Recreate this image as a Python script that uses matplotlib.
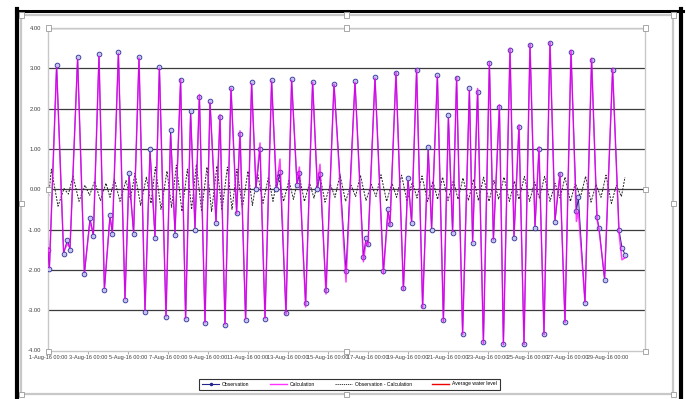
import matplotlib
matplotlib.use("Agg")
import matplotlib.pyplot as plt
from matplotlib.lines import Line2D
from matplotlib.patches import Rectangle

plt.rcParams['font.family'] = ['Liberation Sans', 'DejaVu Sans']
plt.rcParams['axes.unicode_minus'] = False

# turning points of the observed water level (days since 1-Aug-16 00:00, m)
obs_days = [0.00, 0.07, 0.43, 0.78, 0.97, 1.10, 1.48, 1.82, 2.10, 2.27,
            2.55, 2.82, 3.10, 3.22, 3.52, 3.85, 4.05, 4.28, 4.55, 4.85,
            5.10, 5.35, 5.57, 5.90, 6.13, 6.35, 6.63, 6.88, 7.13, 7.35,
            7.57, 7.85, 8.10, 8.40, 8.60, 8.85, 9.15, 9.43, 9.60, 9.88,
            10.18, 10.40, 10.60, 10.85, 11.18, 11.42, 11.60, 11.90, 12.18, 12.45,
            12.57, 12.88, 13.23, 13.47, 13.60, 13.90, 14.30, 14.90, 15.35, 15.77,
            15.90, 16.00, 16.35, 16.77, 17.00, 17.10, 17.40, 17.77, 18.00, 18.18,
            18.43, 18.73, 19.01, 19.18, 19.47, 19.77, 20.02, 20.23, 20.43, 20.73,
            21.07, 21.23, 21.48, 21.77, 22.07, 22.27, 22.57, 22.77, 23.10, 23.30,
            23.55, 23.80, 24.10, 24.35, 24.55, 24.80, 25.10, 25.35, 25.60, 25.85,
            26.15, 26.42, 26.52, 26.85, 27.18, 27.45, 27.55, 27.83, 28.23, 28.55,
            28.70, 28.85]
obs_vals = [-1.50, -1.98, 3.08, -1.60, -1.25, -1.50, 3.27, -2.11, -0.71, -1.17,
            3.35, -2.50, -0.63, -1.12, 3.40, -2.75, 0.40, -1.10, 3.27, -3.04,
            1.00, -1.20, 3.04, -3.17, 1.46, -1.13, 2.70, -3.21, 1.94, -1.00,
            2.29, -3.33, 2.20, -0.83, 1.79, -3.36, 2.52, -0.58, 1.38, -3.25,
            2.65, 0.00, 1.00, -3.21, 2.70, 0.00, 0.42, -3.08, 2.73, 0.10,
            0.40, -2.83, 2.67, 0.00, 0.37, -2.50, 2.62, -2.04, 2.68, -1.67,
            -1.20, -1.35, 2.79, -2.04, -0.50, -0.85, 2.89, -2.46, 0.29, -0.83,
            2.96, -2.90, 1.04, -1.00, 2.83, -3.25, 1.83, -1.08, 2.75, -3.58,
            2.50, -1.33, 2.42, -3.79, 3.12, -1.25, 2.04, -3.83, 3.46, -1.20,
            1.54, -3.83, 3.58, -0.95, 1.00, -3.58, 3.62, -0.80, 0.37, -3.29,
            3.41, -0.55, -0.20, -2.83, 3.20, -0.70, -0.95, -2.25, 2.96, -1.00,
            -1.45, -1.62]
calc_vals = [-1.45, -1.95, 3.02, -1.55, -1.35, -1.45, 3.22, -2.05, -0.80, -1.10,
             3.30, -2.45, -0.70, -1.05, 3.36, -2.72, 0.30, -1.05, 3.25, -3.00,
             0.90, -1.15, 3.00, -3.15, 1.35, -1.05, 2.72, -3.20, 1.85, -0.95,
             2.35, -3.30, 2.15, -0.80, 1.85, -3.35, 2.50, -0.60, 1.45, -3.22,
             2.62, 0.05, 1.15, -3.20, 2.68, 0.05, 0.75, -3.10, 2.70, 0.15,
             0.55, -2.92, 2.65, 0.05, 0.62, -2.60, 2.60, -2.30, 2.65, -1.80,
             -1.30, -1.40, 2.75, -2.10, -0.55, -0.90, 2.90, -2.50, 0.20, -0.80,
             2.98, -2.95, 0.95, -0.95, 2.80, -3.28, 1.75, -1.05, 2.78, -3.60,
             2.45, -1.30, 2.50, -3.82, 3.15, -1.25, 2.10, -3.85, 3.50, -1.15,
             1.60, -3.85, 3.60, -0.90, 1.05, -3.60, 3.65, -0.75, 0.40, -3.30,
             3.45, -0.80, -0.55, -2.80, 3.25, -0.75, -1.00, -2.20, 3.00, -1.10,
             -1.75, -1.70]

# turning points of observation - calculation
diff_days = [0.00, 0.17, 0.50, 0.80, 1.02, 1.25, 1.55, 1.85, 2.08, 2.33, 2.62, 2.90, 3.10,
             3.32, 3.60, 3.90, 4.12, 4.35, 4.63, 4.92, 5.15, 5.37, 5.65, 5.95, 6.18,
             6.42, 6.70, 6.97, 7.18, 7.42, 7.68, 7.95, 8.18, 8.45, 8.70, 8.97, 9.20,
             9.45, 9.72, 10.00, 10.22, 10.48, 10.75, 11.02, 11.25, 11.50, 11.78, 12.05, 12.27,
             12.55, 12.82, 13.08, 13.30, 13.58, 13.85, 14.12, 14.35, 14.60, 14.88, 15.15, 15.38,
             15.62, 15.90, 16.17, 16.40, 16.65, 16.93, 17.20, 17.43, 17.68, 17.95, 18.22, 18.45,
             18.70, 18.98, 19.25, 19.48, 19.73, 20.00, 20.27, 20.50, 20.75, 21.02, 21.28, 21.52,
             21.78, 22.05, 22.30, 22.53, 22.80, 23.07, 23.32, 23.55, 23.82, 24.08, 24.33, 24.57,
             24.83, 25.10, 25.35, 25.60, 25.85, 26.12, 26.37, 26.62, 26.88, 27.15, 27.40, 27.65,
             27.90, 28.17, 28.42, 28.67, 28.85]
diff_vals = [-0.33, 0.50, -0.42, 0.02, -0.12, 0.33, -0.30, 0.10, -0.15, 0.20, -0.28, 0.15, -0.20,
             0.25, -0.30, 0.22, -0.25, 0.40, -0.40, 0.30, -0.35, 0.55, -0.50, 0.45, -0.45,
             0.60, -0.55, 0.50, -0.50, 0.62, -0.55, 0.55, -0.55, 0.58, -0.52, 0.55, -0.50,
             0.50, -0.45, 0.45, -0.40, 0.40, -0.35, 0.30, -0.30, 0.38, -0.30, 0.22, -0.25,
             0.36, -0.30, 0.15, -0.22, 0.38, -0.32, 0.12, -0.20, 0.36, -0.30, 0.10, -0.18,
             0.35, -0.28, 0.12, -0.18, 0.36, -0.30, 0.15, -0.20, 0.35, -0.30, 0.18, -0.22,
             0.33, -0.30, 0.20, -0.25, 0.30, -0.28, 0.22, -0.25, 0.28, -0.28, 0.25, -0.28,
             0.30, -0.30, 0.22, -0.25, 0.30, -0.30, 0.20, -0.25, 0.32, -0.30, 0.18, -0.22,
             0.32, -0.30, 0.15, -0.22, 0.30, -0.30, 0.15, -0.20, 0.32, -0.32, 0.12, -0.20,
             0.35, -0.35, 0.10, -0.18, 0.30]

tick_days = list(range(0, 30, 2))
tick_labels = ["%d-Aug-16 00:00" % (d + 1) for d in tick_days]
y_ticks = [-4, -3, -2, -1, 0, 1, 2, 3, 4]

W, H = 686, 399
fig = plt.figure(figsize=(W / 100, H / 100), dpi=100, facecolor='w')

def fx(px):
    return px / W

def fy(py):
    return 1 - py / H

ax = fig.add_axes([fx(48), fy(350.5), fx(645) - fx(48), fy(28) - fy(350.5)])
ax.set_xlim(0, 29.85)
ax.set_ylim(-4, 4)

for y in y_ticks[1:]:
    ax.axhline(y, color='#3c3c3c', lw=0.9, zorder=1)

ax.plot(obs_days, obs_vals, color='#22228c', lw=0.7, marker='o', ms=3.4,
        mfc='#c4c4ee', mec='#30309a', mew=0.6, zorder=3, label='Observation')
ax.plot(obs_days, calc_vals, color='#ff00ff', lw=1.1, alpha=0.75, zorder=4, label='Calculation')
ax.plot(diff_days, diff_vals, color='#222222', lw=0.7, ls=(0, (2, 1.3)), zorder=2,
        label='Observation - Calculation')

ax.set_yticks(y_ticks)
ax.set_yticklabels(["%.2f" % v for v in y_ticks], fontsize=4.2, color='#404040')
ax.set_xticks(tick_days)
ax.set_xticklabels(tick_labels, fontsize=4.0, color='#404040')
ax.tick_params(axis='y', length=0, pad=5)
ax.tick_params(axis='x', length=2, width=0.6, color='#a0a0a0', pad=1.5)
for s in ['left', 'bottom', 'right', 'top']:
    ax.spines[s].set_color('#c8c8c8')
    ax.spines[s].set_linewidth(1.0)

handles = [Line2D([], [], color='#22228c', lw=0.8, marker='o', ms=1.5, mfc='#22228c'),
           Line2D([], [], color='#ff33ff', lw=1.0),
           Line2D([], [], color='#222222', lw=0.6, ls=(0, (1.5, 1))),
           Line2D([], [], color='#ee0000', lw=1.0)]
names = ['Observation', 'Calculation', 'Observation - Calculation', 'Average water level']
leg = fig.legend(handles, names, loc='center', bbox_to_anchor=(fx(349.5), fy(384)),
                 ncol=4, fontsize=3.6, handlelength=3.4, handletextpad=0.6,
                 columnspacing=4.0, borderpad=0.6, frameon=True, fancybox=False)
leg.get_frame().set_edgecolor('#000000')
leg.get_frame().set_linewidth(0.8)

# chart area border and selection frame
fig.patches.append(Rectangle((fx(21), fy(394)), fx(673) - fx(21), fy(15) - fy(394),
                             transform=fig.transFigure, fill=False, ec='#c8c8c8', lw=1.6))
fig.lines.append(Line2D([fx(17), fx(17)], [0, fy(9)], transform=fig.transFigure, color='k', lw=3))
fig.lines.append(Line2D([fx(15.5), fx(682.5)], [fy(10.5), fy(10.5)], transform=fig.transFigure,
                        color='k', lw=2.2))
fig.lines.append(Line2D([fx(681), fx(681)], [0, fy(9)], transform=fig.transFigure, color='k', lw=3))

# selection handles
handle_pts = [(21, 15), (346, 15), (673, 15), (21, 203), (673, 203), (21, 394), (346, 394), (673, 394),
              (48, 28), (346, 28), (645, 28), (48, 189), (645, 189), (48, 351), (346, 351), (645, 351)]
for px, py in handle_pts:
    fig.patches.append(Rectangle((fx(px - 2.5), fy(py + 2.5)), fx(5), 5 / H,
                                 transform=fig.transFigure, fc='white', ec='#9a9a9a', lw=0.6,
                                 zorder=10))

fig.savefig('out.png', dpi=100, facecolor='w')
